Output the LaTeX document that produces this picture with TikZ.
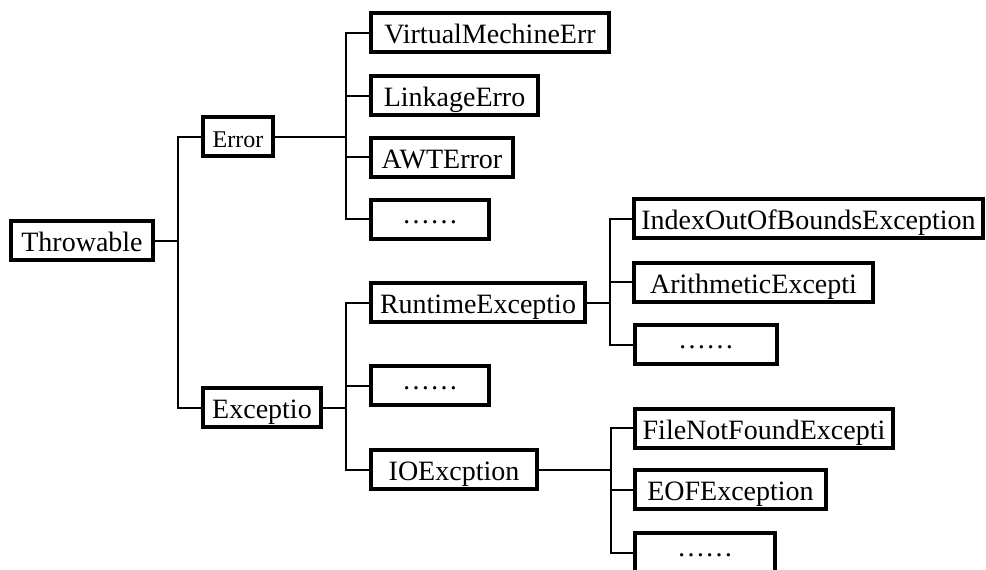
\documentclass[tikz,border=0pt]{standalone}
\usepackage{fontspec}
\setmainfont{Liberation Serif}
\begin{document}
\begin{tikzpicture}[x=1pt,y=-1pt,
  cls/.style={draw,line width=4pt,inner sep=0pt,minimum height=39pt,text height=22pt,text depth=0pt,font=\fontsize{28}{30}\selectfont},
  more/.style={cls,text height=8pt},
  link/.style={line width=2pt}]
  \useasboundingbox (0,0) rectangle (986,570);
  % root and first level
  \node[cls,minimum width=142pt] (thr) at (82,240.5) {Throwable};
  \node[cls,minimum width=70pt,font=\fontsize{24}{26}\selectfont] (err) at (238,136.5) {Error};
  \node[cls,minimum width=118pt] (exc) at (262,407.5) {Exceptio};
  % errors
  \node[cls,minimum width=238pt] (vme) at (490,32.5) {VirtualMechineErr};
  \node[cls,minimum width=167pt] (lnk) at (454.5,95.5) {LinkageErro};
  \node[cls,minimum width=142pt] (awt) at (442,157) {AWTError};
  \node[more,minimum width=118pt] (d1) at (430,219) {……};
  % exceptions
  \node[cls,minimum width=214pt] (rte) at (478,302.5) {RuntimeExceptio};
  \node[more,minimum width=118pt] (d2) at (430,385.5) {……};
  \node[cls,minimum width=166pt] (ioe) at (454,469.5) {IOExcption};
  \node[cls,minimum width=349pt] (idx) at (808.5,218.5) {IndexOutOfBoundsException};
  \node[cls,minimum width=239pt] (ari) at (753.5,282) {ArithmeticExcepti};
  \node[more,minimum width=142pt] (d3) at (706,344.5) {……};
  \node[cls,minimum width=258pt] (fnf) at (764,428) {FileNotFoundExcepti};
  \node[cls,minimum width=191pt] (eof) at (730.5,489.5) {EOFException};
  \node[more,minimum width=140pt] (d4) at (705,552.5) {……};
  % connectors
  \coordinate (t0) at (178,240.5);
  \draw[link] (thr.east) -- (t0);
  \draw[link] (err.west) -| (t0) |- (exc.west);
  \coordinate (t1) at (346,136.5);
  \draw[link] (err.east) -- (t1);
  \foreach \c in {vme,lnk,awt,d1} \draw[link] (t1) |- (\c.west);
  \coordinate (t2) at (346,407.5);
  \draw[link] (exc.east) -- (t2);
  \foreach \c in {rte,d2,ioe} \draw[link] (t2) |- (\c.west);
  \coordinate (t3) at (610,302.5);
  \draw[link] (rte.east) -- (t3);
  \foreach \c in {idx,ari,d3} \draw[link] (t3) |- (\c.west);
  \coordinate (t4) at (611,469.5);
  \draw[link] (ioe.east) -- (t4);
  \foreach \c in {fnf,eof,d4} \draw[link] (t4) |- (\c.west);
\end{tikzpicture}
\end{document}
